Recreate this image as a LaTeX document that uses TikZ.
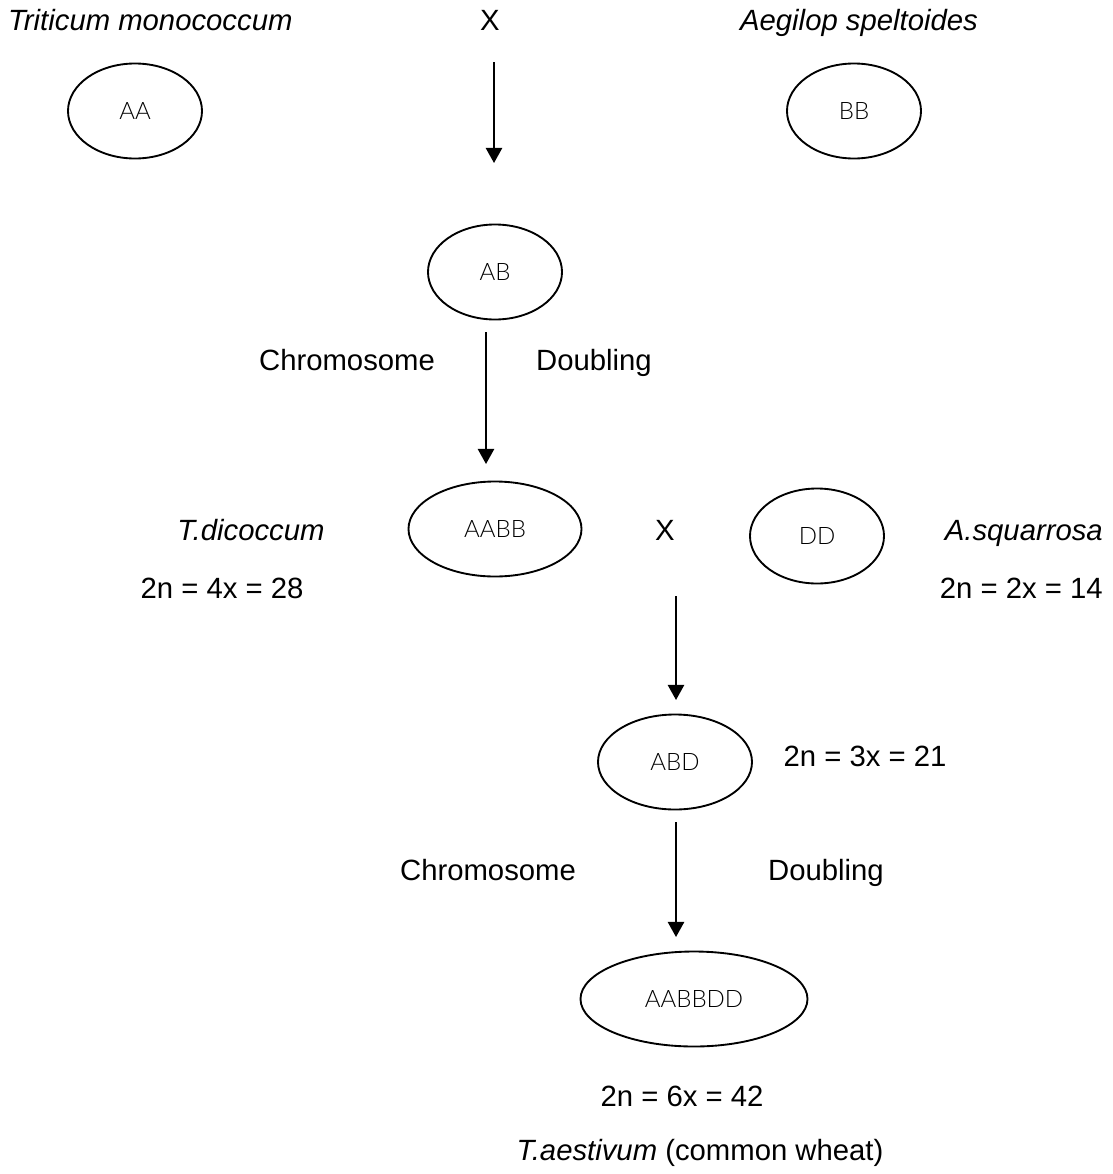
\documentclass[tikz,border=0pt]{standalone}
\usepackage{fontspec}
\setmainfont{Liberation Sans}
\newfontfamily\genomefont{Lato Light}
\usetikzlibrary{shapes.geometric,arrows.meta}

\begin{document}
\begin{tikzpicture}[x=0.03cm, y=-0.03cm,
        txt/.style={inner sep=0pt, text height=20pt, text depth=5pt, font=\fontsize{25}{30}\selectfont},
        genome/.style={ellipse, draw, line width=1.6pt, inner sep=0pt, outer sep=0pt,
            minimum height=2.85cm, font=\genomefont\fontsize{20.5}{24}\selectfont},
        cross/.style={line width=1.6pt, -{Triangle[length=13pt, width=14pt]}}]
        \useasboundingbox (0,0) rectangle (1112,1174);

        % first cross
        \node[txt, anchor=west] (tmono) at (8, 22) {\itshape Triticum monococcum};
        \node[txt] (x1) at (490, 22) {X};
        \node[txt] (aspelt) at (859, 22) {\itshape Aegilop speltoides};
        \node[genome, minimum width=4.02cm] (aa) at (135, 111) {AA};
        \node[genome, minimum width=4.02cm] (bb) at (854, 111) {BB};
        \node[genome, minimum width=4.02cm] (ab) at (495, 272) {AB};

        \node[txt] (chr1) at (347, 362) {Chromosome};
        \node[txt] (dbl1) at (594, 362) {Doubling};

        % second cross
        \node[genome, minimum width=5.19cm] (aabb) at (495, 529) {AABB};
        \node[txt] (tdic) at (251, 532) {\itshape T.dicoccum};
        \node[txt] (tdicn) at (222, 590) {2n = 4x = 28};
        \node[txt] (x2) at (665, 532) {X};
        \node[genome, minimum width=4.02cm] (dd) at (817, 536) {DD};
        \node[txt, anchor=east] (asq) at (1103, 532) {\itshape A.squarrosa};
        \node[txt, anchor=east] (asqn) at (1103, 590) {2n = 2x = 14};

        \node[genome, minimum width=4.62cm] (abd) at (675, 762) {ABD};
        \node[txt] (abdn) at (865, 758) {2n = 3x = 21};
        \node[txt] (chr2) at (488, 872) {Chromosome};
        \node[txt] (dbl2) at (826, 872) {Doubling};

        \node[genome, minimum width=6.81cm] (aabbdd) at (694, 999) {AABBDD};
        \node[txt] (aabbddn) at (682, 1098) {2n = 6x = 42};
        \node[txt] (taest) at (700, 1152) {\itshape T.aestivum\upshape\ (common wheat)};

        % arrow ends
        \coordinate (s1) at (494, 62);
        \coordinate (e1) at (494, 163);
        \coordinate (s2) at (486, 332);
        \coordinate (e2) at (486, 464);
        \coordinate (s3) at (676, 596);
        \coordinate (e3) at (676, 700);
        \coordinate (s4) at (676, 822);
        \coordinate (e4) at (676, 937);

        \draw[cross] (s1) -- (e1);
        \draw[cross] (s2) -- (e2);
        \draw[cross] (s3) -- (e3);
        \draw[cross] (s4) -- (e4);
    \end{tikzpicture}
\end{document}
